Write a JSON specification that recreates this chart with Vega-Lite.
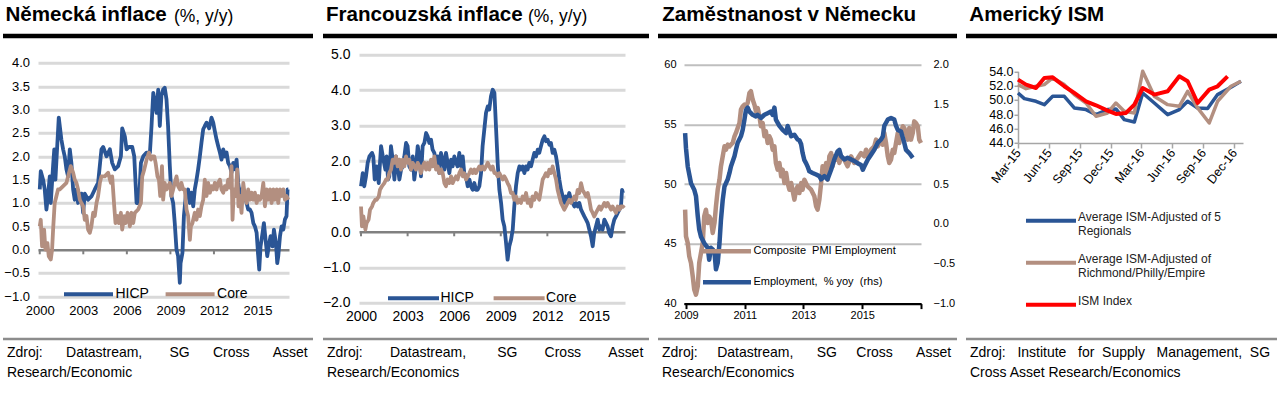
{
"$schema": "https://vega.github.io/schema/vega-lite/v6.json",
"padding": {"left": 3, "top": 4.8, "right": 0, "bottom": 0},
"config": {"font": "Liberation Sans", "view": {"stroke": null}, "axis": {"labelColor": "#000", "domain": false, "ticks": false, "grid": false}, "style": {"guide-label": {"lineHeight": 14}}},
"resolve": {"scale": {"color": "independent"}, "legend": {"color": "independent"}},
"datasets": {
"deH": [{"t":2000.0,"v":1.29},{"t":2000.07,"v":1.68},{"t":2000.23,"v":1.5},{"t":2000.34,"v":1.3},{"t":2000.46,"v":0.86},{"t":2000.57,"v":1.15},{"t":2000.69,"v":1.57},{"t":2000.76,"v":1.0},{"t":2000.92,"v":1.8},{"t":2001.0,"v":2.15},{"t":2001.08,"v":1.5},{"t":2001.2,"v":2.2},{"t":2001.31,"v":2.83},{"t":2001.49,"v":2.36},{"t":2001.61,"v":2.15},{"t":2001.72,"v":2.0},{"t":2001.84,"v":1.72},{"t":2001.95,"v":1.57},{"t":2002.07,"v":2.15},{"t":2002.18,"v":1.86},{"t":2002.3,"v":1.29},{"t":2002.41,"v":1.07},{"t":2002.53,"v":1.29},{"t":2002.64,"v":1.0},{"t":2002.87,"v":1.2},{"t":2002.99,"v":0.79},{"t":2003.1,"v":1.2},{"t":2003.33,"v":1.07},{"t":2003.56,"v":1.14},{"t":2003.79,"v":1.29},{"t":2004.02,"v":1.43},{"t":2004.25,"v":2.15},{"t":2004.37,"v":2.2},{"t":2004.6,"v":2.0},{"t":2004.83,"v":2.15},{"t":2004.99,"v":1.86},{"t":2005.17,"v":1.72},{"t":2005.4,"v":1.79},{"t":2005.59,"v":2.0},{"t":2005.68,"v":2.6},{"t":2005.86,"v":2.43},{"t":2005.98,"v":2.15},{"t":2006.14,"v":2.2},{"t":2006.37,"v":2.2},{"t":2006.51,"v":2.0},{"t":2006.67,"v":1.0},{"t":2006.83,"v":1.0},{"t":2006.97,"v":1.86},{"t":2007.13,"v":2.0},{"t":2007.36,"v":2.08},{"t":2007.59,"v":2.08},{"t":2007.7,"v":2.65},{"t":2007.82,"v":3.36},{"t":2008.05,"v":2.93},{"t":2008.16,"v":3.43},{"t":2008.27,"v":2.65},{"t":2008.38,"v":3.3},{"t":2008.5,"v":3.43},{"t":2008.61,"v":3.47},{"t":2008.73,"v":3.22},{"t":2008.84,"v":2.65},{"t":2008.96,"v":1.79},{"t":2009.07,"v":1.15},{"t":2009.19,"v":1.0},{"t":2009.3,"v":0.57},{"t":2009.42,"v":0.0},{"t":2009.53,"v":-0.14},{"t":2009.65,"v":-0.71},{"t":2009.7,"v":-0.29},{"t":2009.83,"v":-0.07},{"t":2009.93,"v":0.72},{"t":2010.06,"v":1.15},{"t":2010.22,"v":1.29},{"t":2010.34,"v":1.0},{"t":2010.45,"v":1.22},{"t":2010.57,"v":0.93},{"t":2010.68,"v":1.29},{"t":2010.8,"v":1.5},{"t":2010.91,"v":1.72},{"t":2011.03,"v":2.0},{"t":2011.14,"v":2.29},{"t":2011.26,"v":2.58},{"t":2011.37,"v":2.65},{"t":2011.49,"v":2.72},{"t":2011.67,"v":2.6},{"t":2011.83,"v":2.83},{"t":2011.95,"v":2.72},{"t":2012.06,"v":2.54},{"t":2012.18,"v":2.36},{"t":2012.29,"v":2.22},{"t":2012.41,"v":2.08},{"t":2012.52,"v":1.93},{"t":2012.64,"v":2.15},{"t":2012.75,"v":2.0},{"t":2012.87,"v":2.08},{"t":2012.98,"v":1.86},{"t":2013.1,"v":1.79},{"t":2013.21,"v":1.65},{"t":2013.33,"v":1.86},{"t":2013.44,"v":1.72},{"t":2013.56,"v":1.93},{"t":2013.67,"v":1.43},{"t":2013.79,"v":1.15},{"t":2013.9,"v":1.29},{"t":2014.02,"v":1.07},{"t":2014.13,"v":1.22},{"t":2014.25,"v":1.0},{"t":2014.36,"v":0.86},{"t":2014.48,"v":0.86},{"t":2014.59,"v":0.79},{"t":2014.71,"v":0.57},{"t":2014.82,"v":0.5},{"t":2014.94,"v":0.36},{"t":2015.05,"v":-0.14},{"t":2015.12,"v":-0.43},{"t":2015.21,"v":0.07},{"t":2015.35,"v":0.36},{"t":2015.44,"v":0.57},{"t":2015.58,"v":0.14},{"t":2015.67,"v":-0.14},{"t":2015.81,"v":0.14},{"t":2015.9,"v":0.29},{"t":2016.04,"v":0.07},{"t":2016.13,"v":0.43},{"t":2016.27,"v":0.14},{"t":2016.36,"v":-0.29},{"t":2016.43,"v":-0.14},{"t":2016.55,"v":0.29},{"t":2016.66,"v":0.5},{"t":2016.78,"v":0.43},{"t":2016.89,"v":0.65},{"t":2017.0,"v":0.72},{"t":2017.07,"v":1.29},{"t":2017.12,"v":1.29}],
"deC": [{"t":2000.0,"v":0.5},{"t":2000.07,"v":0.64},{"t":2000.16,"v":0.07},{"t":2000.3,"v":0.43},{"t":2000.39,"v":0.0},{"t":2000.53,"v":0.14},{"t":2000.62,"v":-0.14},{"t":2000.76,"v":-0.21},{"t":2000.85,"v":0.0},{"t":2000.92,"v":0.43},{"t":2001.03,"v":1.0},{"t":2001.15,"v":1.15},{"t":2001.26,"v":1.29},{"t":2001.38,"v":1.29},{"t":2001.61,"v":1.36},{"t":2001.84,"v":1.43},{"t":2001.95,"v":1.57},{"t":2002.14,"v":1.79},{"t":2002.3,"v":1.65},{"t":2002.41,"v":1.5},{"t":2002.53,"v":1.43},{"t":2002.64,"v":1.29},{"t":2002.76,"v":1.07},{"t":2002.87,"v":1.0},{"t":2002.99,"v":0.93},{"t":2003.1,"v":0.64},{"t":2003.22,"v":0.72},{"t":2003.33,"v":0.43},{"t":2003.45,"v":0.36},{"t":2003.56,"v":0.5},{"t":2003.68,"v":0.79},{"t":2003.79,"v":0.72},{"t":2003.91,"v":1.0},{"t":2004.02,"v":1.15},{"t":2004.14,"v":1.43},{"t":2004.25,"v":1.57},{"t":2004.48,"v":1.57},{"t":2004.71,"v":1.65},{"t":2004.9,"v":1.43},{"t":2004.99,"v":1.57},{"t":2005.13,"v":0.93},{"t":2005.22,"v":0.57},{"t":2005.36,"v":0.72},{"t":2005.45,"v":0.57},{"t":2005.59,"v":0.79},{"t":2005.68,"v":0.43},{"t":2005.82,"v":0.72},{"t":2005.91,"v":0.57},{"t":2006.05,"v":0.79},{"t":2006.21,"v":0.5},{"t":2006.32,"v":0.79},{"t":2006.44,"v":0.57},{"t":2006.55,"v":0.79},{"t":2006.78,"v":0.86},{"t":2006.97,"v":1.0},{"t":2007.06,"v":1.57},{"t":2007.2,"v":1.72},{"t":2007.36,"v":1.93},{"t":2007.52,"v":2.08},{"t":2007.66,"v":1.93},{"t":2007.75,"v":2.0},{"t":2007.89,"v":2.0},{"t":2007.98,"v":1.86},{"t":2008.11,"v":1.57},{"t":2008.21,"v":1.5},{"t":2008.3,"v":1.15},{"t":2008.42,"v":1.79},{"t":2008.5,"v":1.07},{"t":2008.61,"v":1.43},{"t":2008.73,"v":1.29},{"t":2008.84,"v":1.36},{"t":2008.96,"v":1.43},{"t":2009.07,"v":1.15},{"t":2009.19,"v":1.29},{"t":2009.3,"v":1.43},{"t":2009.42,"v":1.57},{"t":2009.53,"v":1.36},{"t":2009.65,"v":1.29},{"t":2009.76,"v":1.43},{"t":2009.88,"v":1.29},{"t":2009.99,"v":1.29},{"t":2010.11,"v":0.86},{"t":2010.22,"v":0.72},{"t":2010.34,"v":0.21},{"t":2010.41,"v":0.5},{"t":2010.52,"v":0.57},{"t":2010.68,"v":0.79},{"t":2010.8,"v":0.64},{"t":2010.91,"v":0.86},{"t":2011.03,"v":0.72},{"t":2011.14,"v":0.93},{"t":2011.26,"v":1.07},{"t":2011.37,"v":1.5},{"t":2011.49,"v":1.15},{"t":2011.6,"v":1.43},{"t":2011.72,"v":1.22},{"t":2011.83,"v":1.36},{"t":2011.95,"v":1.29},{"t":2012.06,"v":1.43},{"t":2012.18,"v":1.29},{"t":2012.29,"v":1.43},{"t":2012.41,"v":1.5},{"t":2012.52,"v":1.29},{"t":2012.64,"v":1.22},{"t":2012.75,"v":1.36},{"t":2012.87,"v":1.29},{"t":2012.98,"v":1.5},{"t":2013.1,"v":1.33},{"t":2013.21,"v":1.79},{"t":2013.28,"v":0.64},{"t":2013.37,"v":1.29},{"t":2013.51,"v":1.15},{"t":2013.6,"v":1.72},{"t":2013.69,"v":0.93},{"t":2013.79,"v":1.15},{"t":2013.9,"v":0.79},{"t":2014.02,"v":1.43},{"t":2014.13,"v":1.15},{"t":2014.25,"v":1.0},{"t":2014.36,"v":1.29},{"t":2014.48,"v":1.07},{"t":2014.59,"v":1.22},{"t":2014.71,"v":1.07},{"t":2014.82,"v":1.22},{"t":2014.94,"v":1.0},{"t":2015.05,"v":1.15},{"t":2015.17,"v":1.07},{"t":2015.28,"v":1.15},{"t":2015.4,"v":1.43},{"t":2015.51,"v":0.93},{"t":2015.63,"v":1.29},{"t":2015.74,"v":1.07},{"t":2015.86,"v":1.29},{"t":2015.97,"v":1.0},{"t":2016.09,"v":1.29},{"t":2016.2,"v":1.07},{"t":2016.32,"v":1.29},{"t":2016.43,"v":1.0},{"t":2016.55,"v":1.29},{"t":2016.66,"v":1.15},{"t":2016.78,"v":1.29},{"t":2016.89,"v":1.07},{"t":2017.0,"v":1.15},{"t":2017.12,"v":1.07}],
"frH": [{"t":2000.0,"v":1.29},{"t":2000.11,"v":1.66},{"t":2000.21,"v":1.29},{"t":2000.32,"v":1.57},{"t":2000.43,"v":1.95},{"t":2000.54,"v":2.13},{"t":2000.71,"v":2.23},{"t":2000.79,"v":2.13},{"t":2000.88,"v":1.48},{"t":2001.01,"v":1.85},{"t":2001.14,"v":1.38},{"t":2001.29,"v":2.42},{"t":2001.44,"v":2.04},{"t":2001.57,"v":1.76},{"t":2001.65,"v":2.13},{"t":2001.74,"v":1.48},{"t":2001.82,"v":1.57},{"t":2001.93,"v":2.42},{"t":2002.04,"v":2.04},{"t":2002.15,"v":1.48},{"t":2002.25,"v":2.13},{"t":2002.36,"v":1.85},{"t":2002.47,"v":1.48},{"t":2002.58,"v":1.76},{"t":2002.68,"v":1.85},{"t":2002.79,"v":2.13},{"t":2002.9,"v":2.51},{"t":2003.0,"v":2.42},{"t":2003.11,"v":1.85},{"t":2003.22,"v":1.76},{"t":2003.33,"v":2.13},{"t":2003.43,"v":1.48},{"t":2003.54,"v":1.85},{"t":2003.65,"v":2.42},{"t":2003.76,"v":2.13},{"t":2003.86,"v":1.57},{"t":2003.97,"v":2.42},{"t":2004.08,"v":2.51},{"t":2004.19,"v":2.79},{"t":2004.29,"v":2.7},{"t":2004.4,"v":2.51},{"t":2004.51,"v":2.6},{"t":2004.61,"v":2.32},{"t":2004.72,"v":2.23},{"t":2004.83,"v":1.95},{"t":2004.94,"v":2.13},{"t":2005.04,"v":1.66},{"t":2005.15,"v":2.23},{"t":2005.26,"v":2.04},{"t":2005.37,"v":1.76},{"t":2005.47,"v":2.23},{"t":2005.58,"v":1.95},{"t":2005.69,"v":1.66},{"t":2005.8,"v":2.04},{"t":2005.9,"v":1.85},{"t":2006.01,"v":2.13},{"t":2006.12,"v":1.95},{"t":2006.22,"v":1.85},{"t":2006.33,"v":2.23},{"t":2006.44,"v":1.85},{"t":2006.55,"v":2.13},{"t":2006.65,"v":1.66},{"t":2006.76,"v":1.57},{"t":2006.87,"v":1.29},{"t":2006.98,"v":1.48},{"t":2007.08,"v":1.29},{"t":2007.19,"v":1.19},{"t":2007.3,"v":1.38},{"t":2007.4,"v":1.19},{"t":2007.51,"v":1.19},{"t":2007.62,"v":1.29},{"t":2007.73,"v":1.66},{"t":2007.83,"v":2.42},{"t":2007.94,"v":2.89},{"t":2008.05,"v":3.36},{"t":2008.16,"v":3.54},{"t":2008.26,"v":3.45},{"t":2008.37,"v":3.83},{"t":2008.48,"v":4.01},{"t":2008.59,"v":3.92},{"t":2008.69,"v":2.98},{"t":2008.8,"v":1.95},{"t":2008.91,"v":1.19},{"t":2009.02,"v":0.82},{"t":2009.12,"v":0.35},{"t":2009.23,"v":0.16},{"t":2009.34,"v":-0.31},{"t":2009.44,"v":-0.78},{"t":2009.55,"v":-0.4},{"t":2009.66,"v":-0.22},{"t":2009.77,"v":0.07},{"t":2009.87,"v":0.72},{"t":2009.98,"v":1.29},{"t":2010.09,"v":1.66},{"t":2010.2,"v":1.85},{"t":2010.3,"v":1.76},{"t":2010.41,"v":1.85},{"t":2010.52,"v":1.66},{"t":2010.63,"v":1.85},{"t":2010.73,"v":1.76},{"t":2010.84,"v":1.95},{"t":2010.95,"v":1.85},{"t":2011.05,"v":2.04},{"t":2011.16,"v":2.23},{"t":2011.27,"v":2.13},{"t":2011.38,"v":2.32},{"t":2011.48,"v":2.23},{"t":2011.59,"v":2.42},{"t":2011.7,"v":2.6},{"t":2011.81,"v":2.7},{"t":2011.91,"v":2.56},{"t":2012.02,"v":2.6},{"t":2012.13,"v":2.46},{"t":2012.23,"v":2.51},{"t":2012.34,"v":2.23},{"t":2012.45,"v":2.32},{"t":2012.56,"v":2.13},{"t":2012.66,"v":1.85},{"t":2012.77,"v":1.48},{"t":2012.88,"v":1.19},{"t":2012.99,"v":1.0},{"t":2013.09,"v":0.82},{"t":2013.2,"v":1.0},{"t":2013.31,"v":0.91},{"t":2013.41,"v":1.1},{"t":2013.52,"v":0.91},{"t":2013.63,"v":0.82},{"t":2013.74,"v":0.72},{"t":2013.84,"v":0.82},{"t":2013.95,"v":0.72},{"t":2014.06,"v":0.82},{"t":2014.17,"v":0.63},{"t":2014.27,"v":0.54},{"t":2014.38,"v":0.44},{"t":2014.49,"v":0.35},{"t":2014.6,"v":0.25},{"t":2014.7,"v":0.07},{"t":2014.81,"v":-0.12},{"t":2014.92,"v":-0.4},{"t":2015.02,"v":-0.03},{"t":2015.13,"v":0.16},{"t":2015.24,"v":0.35},{"t":2015.35,"v":0.07},{"t":2015.45,"v":0.16},{"t":2015.56,"v":0.07},{"t":2015.67,"v":0.35},{"t":2015.78,"v":0.25},{"t":2015.88,"v":0.16},{"t":2015.99,"v":-0.03},{"t":2016.1,"v":-0.12},{"t":2016.2,"v":0.16},{"t":2016.31,"v":0.35},{"t":2016.42,"v":0.44},{"t":2016.53,"v":0.54},{"t":2016.64,"v":0.63},{"t":2016.74,"v":0.72},{"t":2016.81,"v":1.19},{"t":2016.87,"v":1.1}],
"frC": [{"t":2000.0,"v":0.72},{"t":2000.06,"v":0.16},{"t":2000.15,"v":0.44},{"t":2000.28,"v":0.07},{"t":2000.36,"v":0.25},{"t":2000.49,"v":0.35},{"t":2000.58,"v":0.63},{"t":2000.71,"v":0.72},{"t":2000.79,"v":0.82},{"t":2000.92,"v":0.91},{"t":2001.01,"v":0.91},{"t":2001.14,"v":1.0},{"t":2001.22,"v":1.19},{"t":2001.35,"v":1.29},{"t":2001.5,"v":1.38},{"t":2001.61,"v":1.48},{"t":2001.72,"v":1.48},{"t":2001.82,"v":1.66},{"t":2001.93,"v":1.76},{"t":2002.04,"v":2.04},{"t":2002.15,"v":1.95},{"t":2002.25,"v":2.13},{"t":2002.36,"v":1.85},{"t":2002.47,"v":2.04},{"t":2002.58,"v":1.76},{"t":2002.68,"v":2.04},{"t":2002.79,"v":1.85},{"t":2002.9,"v":2.13},{"t":2003.0,"v":1.95},{"t":2003.11,"v":2.04},{"t":2003.22,"v":1.76},{"t":2003.33,"v":1.95},{"t":2003.43,"v":1.85},{"t":2003.54,"v":1.76},{"t":2003.65,"v":1.95},{"t":2003.76,"v":1.85},{"t":2003.86,"v":1.66},{"t":2003.97,"v":1.85},{"t":2004.08,"v":1.95},{"t":2004.19,"v":1.76},{"t":2004.29,"v":1.95},{"t":2004.4,"v":1.76},{"t":2004.51,"v":2.04},{"t":2004.61,"v":1.85},{"t":2004.72,"v":2.13},{"t":2004.83,"v":1.76},{"t":2004.94,"v":1.85},{"t":2005.04,"v":1.66},{"t":2005.15,"v":1.76},{"t":2005.26,"v":1.66},{"t":2005.37,"v":1.38},{"t":2005.47,"v":1.29},{"t":2005.58,"v":1.48},{"t":2005.69,"v":1.38},{"t":2005.8,"v":1.57},{"t":2005.9,"v":1.38},{"t":2006.01,"v":1.48},{"t":2006.12,"v":1.57},{"t":2006.22,"v":1.48},{"t":2006.33,"v":1.66},{"t":2006.44,"v":1.76},{"t":2006.55,"v":1.57},{"t":2006.65,"v":1.66},{"t":2006.76,"v":1.48},{"t":2006.87,"v":1.57},{"t":2006.98,"v":1.66},{"t":2007.08,"v":1.76},{"t":2007.19,"v":1.66},{"t":2007.3,"v":1.76},{"t":2007.4,"v":1.66},{"t":2007.51,"v":1.76},{"t":2007.62,"v":1.85},{"t":2007.73,"v":1.76},{"t":2007.83,"v":1.85},{"t":2007.94,"v":1.76},{"t":2008.05,"v":1.85},{"t":2008.16,"v":1.95},{"t":2008.26,"v":1.85},{"t":2008.37,"v":1.76},{"t":2008.48,"v":1.85},{"t":2008.59,"v":1.66},{"t":2008.69,"v":1.66},{"t":2008.8,"v":1.57},{"t":2008.91,"v":1.66},{"t":2009.02,"v":1.57},{"t":2009.12,"v":1.48},{"t":2009.23,"v":1.57},{"t":2009.34,"v":1.48},{"t":2009.44,"v":1.38},{"t":2009.55,"v":1.29},{"t":2009.66,"v":1.1},{"t":2009.77,"v":1.1},{"t":2009.87,"v":0.91},{"t":2009.98,"v":1.0},{"t":2010.09,"v":0.82},{"t":2010.2,"v":0.91},{"t":2010.3,"v":0.82},{"t":2010.41,"v":1.0},{"t":2010.52,"v":0.91},{"t":2010.63,"v":1.1},{"t":2010.73,"v":0.82},{"t":2010.84,"v":0.91},{"t":2010.95,"v":0.72},{"t":2011.05,"v":1.0},{"t":2011.16,"v":0.91},{"t":2011.27,"v":1.1},{"t":2011.38,"v":1.0},{"t":2011.48,"v":0.91},{"t":2011.59,"v":1.19},{"t":2011.7,"v":1.48},{"t":2011.81,"v":1.57},{"t":2011.91,"v":1.66},{"t":2012.02,"v":1.57},{"t":2012.13,"v":1.76},{"t":2012.23,"v":1.66},{"t":2012.34,"v":1.85},{"t":2012.45,"v":1.66},{"t":2012.56,"v":1.48},{"t":2012.66,"v":1.19},{"t":2012.77,"v":1.0},{"t":2012.88,"v":0.82},{"t":2012.99,"v":0.72},{"t":2013.09,"v":0.63},{"t":2013.2,"v":0.72},{"t":2013.31,"v":0.82},{"t":2013.41,"v":0.91},{"t":2013.52,"v":0.82},{"t":2013.63,"v":0.91},{"t":2013.74,"v":1.0},{"t":2013.84,"v":0.91},{"t":2013.95,"v":1.19},{"t":2014.06,"v":1.1},{"t":2014.17,"v":1.38},{"t":2014.27,"v":1.19},{"t":2014.38,"v":1.1},{"t":2014.49,"v":1.0},{"t":2014.6,"v":1.1},{"t":2014.7,"v":0.91},{"t":2014.81,"v":0.63},{"t":2014.92,"v":0.54},{"t":2015.02,"v":0.44},{"t":2015.13,"v":0.54},{"t":2015.24,"v":0.63},{"t":2015.35,"v":0.72},{"t":2015.45,"v":0.63},{"t":2015.56,"v":0.72},{"t":2015.67,"v":0.82},{"t":2015.78,"v":0.72},{"t":2015.88,"v":0.82},{"t":2015.99,"v":0.72},{"t":2016.1,"v":0.63},{"t":2016.2,"v":0.72},{"t":2016.31,"v":0.63},{"t":2016.42,"v":0.54},{"t":2016.53,"v":0.72},{"t":2016.64,"v":0.63},{"t":2016.74,"v":0.72},{"t":2016.87,"v":0.72},{"t":2016.95,"v":0.68}],
"pmi": [{"t":2008.97,"v":47.86},{"t":2009.0,"v":45.63},{"t":2009.06,"v":45.07},{"t":2009.11,"v":43.96},{"t":2009.17,"v":43.4},{"t":2009.23,"v":42.28},{"t":2009.28,"v":41.17},{"t":2009.34,"v":40.75},{"t":2009.4,"v":41.45},{"t":2009.45,"v":43.4},{"t":2009.51,"v":44.24},{"t":2009.57,"v":45.07},{"t":2009.62,"v":47.3},{"t":2009.68,"v":47.86},{"t":2009.74,"v":46.75},{"t":2009.79,"v":47.3},{"t":2009.85,"v":47.03},{"t":2009.91,"v":45.91},{"t":2009.97,"v":46.75},{"t":2010.02,"v":48.14},{"t":2010.08,"v":49.53},{"t":2010.14,"v":50.37},{"t":2010.19,"v":51.49},{"t":2010.25,"v":52.32},{"t":2010.31,"v":53.16},{"t":2010.36,"v":52.88},{"t":2010.42,"v":53.3},{"t":2010.48,"v":53.16},{"t":2010.53,"v":53.3},{"t":2010.59,"v":53.44},{"t":2010.65,"v":54.0},{"t":2010.7,"v":54.28},{"t":2010.76,"v":54.7},{"t":2010.82,"v":55.11},{"t":2010.87,"v":56.23},{"t":2010.93,"v":56.51},{"t":2010.99,"v":56.65},{"t":2011.04,"v":56.51},{"t":2011.1,"v":56.79},{"t":2011.16,"v":57.63},{"t":2011.21,"v":57.77},{"t":2011.27,"v":57.07},{"t":2011.33,"v":56.65},{"t":2011.38,"v":56.09},{"t":2011.44,"v":56.37},{"t":2011.5,"v":55.67},{"t":2011.55,"v":54.84},{"t":2011.61,"v":55.11},{"t":2011.67,"v":54.0},{"t":2011.72,"v":54.42},{"t":2011.78,"v":53.44},{"t":2011.84,"v":54.0},{"t":2011.89,"v":53.72},{"t":2011.95,"v":52.88},{"t":2012.01,"v":53.16},{"t":2012.06,"v":51.77},{"t":2012.12,"v":51.21},{"t":2012.18,"v":51.77},{"t":2012.24,"v":50.65},{"t":2012.29,"v":51.21},{"t":2012.35,"v":50.09},{"t":2012.41,"v":50.93},{"t":2012.46,"v":50.09},{"t":2012.52,"v":49.53},{"t":2012.58,"v":50.09},{"t":2012.69,"v":48.7},{"t":2012.75,"v":49.53},{"t":2012.8,"v":49.81},{"t":2012.86,"v":49.25},{"t":2012.92,"v":50.09},{"t":2012.97,"v":49.53},{"t":2013.03,"v":50.37},{"t":2013.14,"v":49.81},{"t":2013.26,"v":49.53},{"t":2013.37,"v":48.98},{"t":2013.43,"v":48.14},{"t":2013.48,"v":47.86},{"t":2013.54,"v":48.7},{"t":2013.6,"v":50.09},{"t":2013.65,"v":51.49},{"t":2013.71,"v":50.65},{"t":2013.77,"v":51.77},{"t":2013.82,"v":50.37},{"t":2013.88,"v":52.32},{"t":2013.94,"v":52.6},{"t":2013.99,"v":51.49},{"t":2014.05,"v":52.32},{"t":2014.11,"v":52.04},{"t":2014.16,"v":52.6},{"t":2014.22,"v":51.77},{"t":2014.28,"v":52.32},{"t":2014.39,"v":52.04},{"t":2014.5,"v":51.49},{"t":2014.62,"v":52.32},{"t":2014.68,"v":52.04},{"t":2014.73,"v":51.77},{"t":2014.85,"v":52.18},{"t":2014.96,"v":52.6},{"t":2015.07,"v":52.32},{"t":2015.13,"v":52.88},{"t":2015.19,"v":52.32},{"t":2015.3,"v":52.88},{"t":2015.41,"v":53.16},{"t":2015.47,"v":53.72},{"t":2015.53,"v":53.16},{"t":2015.64,"v":53.72},{"t":2015.7,"v":53.3},{"t":2015.75,"v":54.28},{"t":2015.81,"v":53.44},{"t":2015.87,"v":52.32},{"t":2015.92,"v":51.77},{"t":2015.98,"v":52.04},{"t":2016.04,"v":52.88},{"t":2016.09,"v":52.6},{"t":2016.15,"v":53.44},{"t":2016.21,"v":54.28},{"t":2016.26,"v":53.44},{"t":2016.32,"v":54.28},{"t":2016.38,"v":54.84},{"t":2016.43,"v":54.7},{"t":2016.55,"v":53.72},{"t":2016.6,"v":54.7},{"t":2016.66,"v":53.72},{"t":2016.72,"v":54.28},{"t":2016.77,"v":55.25},{"t":2016.83,"v":55.11},{"t":2016.89,"v":54.84},{"t":2016.94,"v":53.72},{"t":2017.0,"v":53.44}],
"emp": [{"t":2008.97,"v":1.14},{"t":2009.0,"v":0.95},{"t":2009.06,"v":0.72},{"t":2009.17,"v":0.51},{"t":2009.28,"v":0.43},{"t":2009.34,"v":0.35},{"t":2009.4,"v":0.1},{"t":2009.45,"v":-0.07},{"t":2009.51,"v":-0.16},{"t":2009.62,"v":-0.24},{"t":2009.74,"v":-0.3},{"t":2009.79,"v":-0.45},{"t":2009.85,"v":-0.3},{"t":2009.91,"v":-0.32},{"t":2009.97,"v":-0.36},{"t":2010.02,"v":-0.57},{"t":2010.08,"v":-0.49},{"t":2010.14,"v":-0.24},{"t":2010.19,"v":0.05},{"t":2010.25,"v":0.3},{"t":2010.31,"v":0.47},{"t":2010.36,"v":0.51},{"t":2010.42,"v":0.56},{"t":2010.48,"v":0.64},{"t":2010.53,"v":0.72},{"t":2010.65,"v":0.85},{"t":2010.7,"v":0.93},{"t":2010.76,"v":1.02},{"t":2010.87,"v":1.1},{"t":2010.93,"v":1.18},{"t":2010.99,"v":1.31},{"t":2011.04,"v":1.43},{"t":2011.1,"v":1.46},{"t":2011.16,"v":1.41},{"t":2011.27,"v":1.37},{"t":2011.38,"v":1.35},{"t":2011.44,"v":1.37},{"t":2011.55,"v":1.33},{"t":2011.67,"v":1.37},{"t":2011.78,"v":1.39},{"t":2011.89,"v":1.41},{"t":2011.95,"v":1.37},{"t":2012.01,"v":1.46},{"t":2012.06,"v":1.31},{"t":2012.18,"v":1.23},{"t":2012.29,"v":1.18},{"t":2012.41,"v":1.14},{"t":2012.46,"v":1.23},{"t":2012.58,"v":1.1},{"t":2012.69,"v":1.12},{"t":2012.8,"v":1.06},{"t":2012.86,"v":1.05},{"t":2012.92,"v":1.0},{"t":2012.97,"v":0.89},{"t":2013.03,"v":0.8},{"t":2013.09,"v":0.76},{"t":2013.14,"v":0.72},{"t":2013.2,"v":0.66},{"t":2013.31,"v":0.64},{"t":2013.43,"v":0.62},{"t":2013.54,"v":0.6},{"t":2013.6,"v":0.56},{"t":2013.71,"v":0.6},{"t":2013.82,"v":0.56},{"t":2013.94,"v":0.68},{"t":2014.05,"v":0.81},{"t":2014.16,"v":0.91},{"t":2014.22,"v":0.93},{"t":2014.28,"v":0.85},{"t":2014.39,"v":0.81},{"t":2014.5,"v":0.83},{"t":2014.62,"v":0.81},{"t":2014.73,"v":0.79},{"t":2014.85,"v":0.76},{"t":2014.96,"v":0.74},{"t":2015.02,"v":0.68},{"t":2015.07,"v":0.72},{"t":2015.19,"v":0.81},{"t":2015.3,"v":0.87},{"t":2015.41,"v":0.93},{"t":2015.53,"v":1.02},{"t":2015.64,"v":1.06},{"t":2015.7,"v":1.1},{"t":2015.75,"v":1.23},{"t":2015.81,"v":1.27},{"t":2015.87,"v":1.31},{"t":2015.98,"v":1.33},{"t":2016.09,"v":1.31},{"t":2016.15,"v":1.23},{"t":2016.21,"v":1.18},{"t":2016.32,"v":1.16},{"t":2016.43,"v":1.02},{"t":2016.49,"v":0.93},{"t":2016.6,"v":0.89},{"t":2016.72,"v":0.83}],
"ism5": [{"t":0,"v":50.98},{"t":0.62,"v":50.19},{"t":1.75,"v":49.82},{"t":2.56,"v":49.35},{"t":3.37,"v":50.51},{"t":4.5,"v":50.51},{"t":5.47,"v":48.89},{"t":6.61,"v":48.66},{"t":7.58,"v":47.96},{"t":8.71,"v":48.66},{"t":9.52,"v":48.75},{"t":10.33,"v":47.26},{"t":11.31,"v":46.93},{"t":12.12,"v":50.98},{"t":13.25,"v":49.58},{"t":14.55,"v":47.96},{"t":15.68,"v":48.66},{"t":16.49,"v":49.82},{"t":17.46,"v":48.89},{"t":18.43,"v":48.8},{"t":19.4,"v":50.75},{"t":20.7,"v":51.77},{"t":21.67,"v":52.61}],
"ismR": [{"t":0,"v":52.14},{"t":0.78,"v":51.58},{"t":1.75,"v":51.91},{"t":2.56,"v":52.14},{"t":3.37,"v":53.07},{"t":4.5,"v":52.14},{"t":5.47,"v":50.75},{"t":6.61,"v":49.58},{"t":7.58,"v":47.73},{"t":8.71,"v":48.19},{"t":9.52,"v":49.58},{"t":10.33,"v":48.42},{"t":11.31,"v":48.19},{"t":12.12,"v":54.0},{"t":13.25,"v":50.51},{"t":14.55,"v":49.35},{"t":15.68,"v":49.12},{"t":16.49,"v":51.21},{"t":17.46,"v":48.89},{"t":18.59,"v":46.79},{"t":19.4,"v":49.82},{"t":20.7,"v":51.91},{"t":21.67,"v":52.61}],
"ism": [{"t":0,"v":52.84},{"t":0.78,"v":52.14},{"t":1.75,"v":51.67},{"t":2.56,"v":53.07},{"t":3.37,"v":53.16},{"t":4.5,"v":51.91},{"t":5.47,"v":50.98},{"t":6.61,"v":49.82},{"t":7.58,"v":49.26},{"t":8.71,"v":48.52},{"t":9.52,"v":48.05},{"t":10.5,"v":48.19},{"t":11.31,"v":49.35},{"t":12.12,"v":51.67},{"t":13.25,"v":50.75},{"t":14.55,"v":51.21},{"t":15.68,"v":53.3},{"t":16.49,"v":52.61},{"t":17.46,"v":49.58},{"t":18.59,"v":51.44},{"t":19.4,"v":51.91},{"t":20.37,"v":53.3}]
},
"spacing": 9,
"hconcat": [
{
"spacing": 0,
"vconcat": [
{"hconcat": [
{"data": {"values": [{}]}, "width": 171, "height": 4.5, "mark": {"type": "rect", "color": "#000"}, "encoding": {}, "title": {"text": "Německá inflace", "anchor": "start", "orient": "top", "fontSize": 20.6, "fontWeight": "bold", "color": "#000", "offset": -8.1, "baseline": "alphabetic", "dx": 2.5}},
{"data": {"values": [{}]}, "width": 139, "height": 4.5, "mark": {"type": "rect", "color": "#000"}, "encoding": {}, "title": {"text": "(%, y/y)", "anchor": "start", "orient": "top", "fontSize": 17.5, "fontWeight": "normal", "color": "#000", "offset": -5.4, "baseline": "alphabetic"}}
], "spacing": 0, "bounds": "flush"},
{
"width": 310, "height": 298.5,
"encoding": {
"x": {"field": "t", "type": "quantitative", "scale": {"domain": [1999.88, 2017.17], "range": [35, 286], "nice": false, "zero": false}, "axis": {"title": null, "offset": -41, "values": [2000,2003,2006,2009,2012,2015], "format": "d", "labelFontSize": 13, "labelPadding": 8, "tickSize": 0, "ticks": false, "domain": false, "grid": false, "labelFlush": false, "labelOverlap": false}},
"y": {"field": "v", "type": "quantitative", "scale": {"domain": [-1, 4], "range": [257.5, 24.2], "nice": false, "zero": false}, "axis": {"title": null, "offset": -35, "values": [-1,-0.5,0,0.5,1,1.5,2,2.5,3,3.5,4], "format": ".1f", "labelFontSize": 13, "labelPadding": 8.5, "tickSize": 0, "ticks": false, "domain": false, "grid": true, "gridColor": {"condition": {"test": "datum.value === 0", "value": "#808080"}, "value": "#d9d9d9"}, "gridWidth": {"condition": {"test": "datum.value === 0", "value": 2.5}, "value": 3}, "labelFlush": false, "labelOverlap": false}}
},
"layer": [
{"data": {"values": [{"t":2000,"v":0},{"t":2003,"v":0},{"t":2006,"v":0},{"t":2009,"v":0},{"t":2012,"v":0},{"t":2015,"v":0}]}, "mark": {"type": "rule", "color": "#808080", "strokeWidth": 2}, "encoding": {"y2": {"datum": -0.1}}},
{"data": {"name": "deH"}, "mark": {"type": "line", "strokeWidth": 3.8, "strokeJoin": "round"}, "encoding": {"color": {"datum": "HICP", "scale": {"domain": ["HICP", "Core"], "range": ["#2a5595", "#b38f80"]}, "legend": {"title": null, "orient": "none", "legendX": 61, "legendY": 253.5, "direction": "horizontal", "symbolType": "M-4.9,0H4.9", "symbolSize": 100, "symbolStrokeWidth": 4, "symbolOffset": 17.5, "labelOffset": 20, "labelFontSize": 14, "labelColor": "#000", "columnPadding": 8.6, "padding": 0}}}},
{"data": {"name": "deC"}, "mark": {"type": "line", "strokeWidth": 3.8, "strokeJoin": "round"}, "encoding": {"color": {"datum": "Core", "scale": {"domain": ["HICP", "Core"], "range": ["#2a5595", "#b38f80"]}, "legend": {"title": null, "orient": "none", "legendX": 61, "legendY": 253.5, "direction": "horizontal", "symbolType": "M-4.9,0H4.9", "symbolSize": 100, "symbolStrokeWidth": 4, "symbolOffset": 17.5, "labelOffset": 20, "labelFontSize": 14, "labelColor": "#000", "columnPadding": 8.6, "padding": 0}}}}
]
},
{"data": {"values": [{}]}, "width": 310, "height": 2.5, "mark": {"type": "rect", "color": "#8c8c8c"}, "encoding": {}, "title": {"text": ["Zdroj:\u00a0\u00a0\u00a0\u00a0\u00a0\u00a0Datastream,\u00a0\u00a0\u00a0\u00a0\u00a0\u00a0\u00a0SG\u00a0\u00a0\u00a0\u00a0\u00a0\u00a0Cross\u00a0\u00a0\u00a0\u00a0\u00a0\u00a0Asset", "Research/Economic"], "orient": "bottom", "anchor": "start", "fontSize": 14, "fontWeight": "normal", "color": "#000", "offset": 16.5, "baseline": "alphabetic", "lineHeight": 20, "dx": 4}}
]
},
{
"spacing": 0,
"vconcat": [
{"hconcat": [
{"data": {"values": [{}]}, "width": 205, "height": 4.5, "mark": {"type": "rect", "color": "#000"}, "encoding": {}, "title": {"text": "Francouzská inflace", "anchor": "start", "orient": "top", "fontSize": 20.6, "fontWeight": "bold", "color": "#000", "offset": -8.1, "baseline": "alphabetic", "dx": 3}},
{"data": {"values": [{}]}, "width": 121, "height": 4.5, "mark": {"type": "rect", "color": "#000"}, "encoding": {}, "title": {"text": "(%, y/y)", "anchor": "start", "orient": "top", "fontSize": 17.5, "fontWeight": "normal", "color": "#000", "offset": -5.4, "baseline": "alphabetic"}}
], "spacing": 0, "bounds": "flush"},
{
"width": 326, "height": 298.5,
"encoding": {
"x": {"field": "t", "type": "quantitative", "scale": {"domain": [1999.87, 2017.0], "range": [36, 302], "nice": false, "zero": false}, "axis": {"title": null, "offset": -34.3, "values": [2000,2003,2006,2009,2012,2015], "format": "d", "labelFontSize": 14, "labelPadding": 7, "tickSize": 0, "ticks": false, "domain": false, "grid": false, "labelFlush": false, "labelOverlap": false}},
"y": {"field": "v", "type": "quantitative", "scale": {"domain": [-2, 5], "range": [264.2, 15.8], "nice": false, "zero": false}, "axis": {"title": null, "offset": -36, "values": [-2,-1,0,1,2,3,4,5], "format": ".1f", "labelFontSize": 14, "labelPadding": 9, "tickSize": 0, "ticks": false, "domain": false, "grid": true, "gridColor": {"condition": {"test": "datum.value === 0", "value": "#808080"}, "value": "#d9d9d9"}, "gridWidth": {"condition": {"test": "datum.value === 0", "value": 2.5}, "value": 3}, "labelFlush": false, "labelOverlap": false}}
},
"layer": [
{"data": {"values": [{"t":2000,"v":0},{"t":2003,"v":0},{"t":2006,"v":0},{"t":2009,"v":0},{"t":2012,"v":0},{"t":2015,"v":0}]}, "mark": {"type": "rule", "color": "#808080", "strokeWidth": 2}, "encoding": {"y2": {"datum": -0.12}}},
{"data": {"name": "frH"}, "mark": {"type": "line", "strokeWidth": 3.8, "strokeJoin": "round"}, "encoding": {"color": {"datum": "HICP", "scale": {"domain": ["HICP", "Core"], "range": ["#2a5595", "#b38f80"]}, "legend": {"title": null, "orient": "none", "legendX": 65, "legendY": 257.5, "direction": "horizontal", "symbolType": "M-5.1,0H5.1", "symbolSize": 100, "symbolStrokeWidth": 4, "symbolOffset": 18.5, "labelOffset": 20, "labelFontSize": 14, "labelColor": "#000", "columnPadding": 11.6, "padding": 0}}}},
{"data": {"name": "frC"}, "mark": {"type": "line", "strokeWidth": 3.8, "strokeJoin": "round"}, "encoding": {"color": {"datum": "Core", "scale": {"domain": ["HICP", "Core"], "range": ["#2a5595", "#b38f80"]}, "legend": {"title": null, "orient": "none", "legendX": 65, "legendY": 257.5, "direction": "horizontal", "symbolType": "M-5.1,0H5.1", "symbolSize": 100, "symbolStrokeWidth": 4, "symbolOffset": 18.5, "labelOffset": 20, "labelFontSize": 14, "labelColor": "#000", "columnPadding": 11.6, "padding": 0}}}}
]
},
{"data": {"values": [{}]}, "width": 326, "height": 2.5, "mark": {"type": "rect", "color": "#8c8c8c"}, "encoding": {}, "title": {"text": ["Zdroj:\u00a0\u00a0\u00a0\u00a0\u00a0\u00a0\u00a0Datastream,\u00a0\u00a0\u00a0\u00a0\u00a0\u00a0\u00a0\u00a0SG\u00a0\u00a0\u00a0\u00a0\u00a0\u00a0\u00a0Cross\u00a0\u00a0\u00a0\u00a0\u00a0\u00a0\u00a0Asset", "Research/Economics"], "orient": "bottom", "anchor": "start", "fontSize": 14, "fontWeight": "normal", "color": "#000", "offset": 16.5, "baseline": "alphabetic", "lineHeight": 20, "dx": 4}}
]
},
{
"spacing": 0,
"vconcat": [
{"data": {"values": [{}]}, "width": 299, "height": 4.5, "mark": {"type": "rect", "color": "#000"}, "encoding": {}, "title": {"text": "Zaměstnanost v Německu", "anchor": "start", "orient": "top", "fontSize": 20.6, "fontWeight": "bold", "color": "#000", "offset": -8.1, "baseline": "alphabetic", "dx": 4.3}},
{
"width": 299, "height": 298.5,
"encoding": {
"x": {"field": "t", "type": "quantitative", "scale": {"domain": [2008.932, 2017.0], "range": [26, 263], "nice": false, "zero": false}, "axis": {"title": null, "offset": -33.7, "values": [2009,2011,2013,2015,2017], "format": "d", "labelExpr": "datum.value == 2017 ? '' : datum.label", "labelFontSize": 11, "labelPadding": 1, "domain": true, "domainColor": "#000", "domainWidth": 2, "domainOpacity": 1, "ticks": true, "tickColor": "#000", "tickSize": 5, "tickWidth": 2, "grid": false, "labelFlush": false, "labelOverlap": false}}
},
"layer": [
{"data": {"name": "pmi"}, "mark": {"type": "line", "strokeWidth": 4.5, "strokeJoin": "round"}, "encoding": {"y": {"field": "v", "type": "quantitative", "scale": {"domain": [40, 60], "range": [264.8, 25.8], "nice": false, "zero": false}, "axis": {"title": null, "orient": "left", "offset": -26, "values": [40,45,50,55,60], "format": "d", "labelFontSize": 11, "labelPadding": 8, "tickSize": 0, "ticks": false, "domain": false, "grid": true, "gridColor": {"condition": {"test": "datum.value === 40", "value": "#000"}, "value": "#bfbfbf"}, "gridWidth": 2, "labelFlush": false, "labelOverlap": false}}, "color": {"datum": "Composite\u00a0 PMI Employment", "scale": {"domain": ["Composite\u00a0 PMI Employment", "Employment,\u00a0 % yoy\u00a0 (rhs)"], "range": ["#b38f80", "#2a5595"]}, "legend": {"title": null, "orient": "none", "legendX": 45, "legendY": 210, "direction": "vertical", "symbolType": "M-4.8,0H4.8", "symbolSize": 100, "symbolStrokeWidth": 4.5, "symbolOffset": 16.5, "labelOffset": 19, "labelFontSize": 11, "labelColor": "#000", "rowPadding": 12, "padding": 0}}}},
{"data": {"name": "emp"}, "mark": {"type": "line", "strokeWidth": 4.5, "strokeJoin": "round"}, "encoding": {"y": {"field": "v", "type": "quantitative", "scale": {"domain": [-1, 2], "range": [264.8, 25.8], "nice": false, "zero": false}, "axis": {"title": null, "orient": "right", "offset": -36, "values": [-1,-0.5,0,0.5,1,1.5,2], "format": ".1f", "labelFontSize": 11, "labelPadding": 12, "tickSize": 0, "ticks": false, "domain": false, "grid": false, "labelFlush": false, "labelOverlap": false}}, "color": {"datum": "Employment,\u00a0 % yoy\u00a0 (rhs)", "scale": {"domain": ["Composite\u00a0 PMI Employment", "Employment,\u00a0 % yoy\u00a0 (rhs)"], "range": ["#b38f80", "#2a5595"]}, "legend": {"title": null, "orient": "none", "legendX": 45, "legendY": 210, "direction": "vertical", "symbolType": "M-4.8,0H4.8", "symbolSize": 100, "symbolStrokeWidth": 4.5, "symbolOffset": 16.5, "labelOffset": 19, "labelFontSize": 11, "labelColor": "#000", "rowPadding": 12, "padding": 0}}}}
],
"resolve": {"scale": {"y": "independent"}}
},
{"data": {"values": [{}]}, "width": 299, "height": 2.5, "mark": {"type": "rect", "color": "#8c8c8c"}, "encoding": {}, "title": {"text": ["Zdroj:\u00a0\u00a0\u00a0\u00a0\u00a0Datastream,\u00a0\u00a0\u00a0\u00a0\u00a0\u00a0SG\u00a0\u00a0\u00a0\u00a0\u00a0Cross\u00a0\u00a0\u00a0\u00a0\u00a0\u00a0Asset", "Research/Economics"], "orient": "bottom", "anchor": "start", "fontSize": 14, "fontWeight": "normal", "color": "#000", "offset": 16.5, "baseline": "alphabetic", "lineHeight": 20, "dx": 4}}
]
},
{
"spacing": 0,
"vconcat": [
{"data": {"values": [{}]}, "width": 311, "height": 4.5, "mark": {"type": "rect", "color": "#000"}, "encoding": {}, "title": {"text": "Americký ISM", "anchor": "start", "orient": "top", "fontSize": 20.6, "fontWeight": "bold", "color": "#000", "offset": -8.1, "baseline": "alphabetic", "dx": 3.3}},
{
"width": 311, "height": 298.5,
"encoding": {
"x": {"field": "t", "type": "quantitative", "scale": {"domain": [0, 21.87], "range": [52, 277], "nice": false, "zero": false}, "axis": {"title": null, "offset": -194.3, "values": [0,3,6,9,12,15,18,21], "labelExpr": "['Mar-15','Jun-15','Sep-15','Dec-15','Mar-16','Jun-16','Sep-16','Dec-16'][round(datum.value/3)]", "labelAngle": -52, "labelAlign": "right", "labelBaseline": "middle", "labelFontSize": 12.5, "labelPadding": 2, "domain": true, "domainColor": "#a6a6a6", "domainWidth": 1.5, "ticks": true, "tickColor": "#a6a6a6", "tickSize": 5, "tickWidth": 1.5, "grid": false, "labelFlush": false, "labelOverlap": false}},
"y": {"field": "v", "type": "quantitative", "scale": {"domain": [44, 54], "range": [104.2, 32.5], "nice": false, "zero": false}, "axis": {"title": null, "offset": -52, "values": [44,46,48,50,52,54], "format": ".1f", "labelFontSize": 12.5, "labelPadding": 1, "domain": true, "domainColor": "#a6a6a6", "domainWidth": 1.5, "ticks": true, "tickColor": "#a6a6a6", "tickSize": 4, "tickWidth": 1.5, "grid": false, "labelFlush": false, "labelOverlap": false}}
},
"layer": [
{"data": {"name": "ism5"}, "mark": {"type": "line", "strokeWidth": 3.5, "strokeJoin": "round"}, "encoding": {"color": {"datum": "Average ISM-Adjusted of 5|Regionals", "scale": {"domain": ["Average ISM-Adjusted of 5|Regionals", "Average ISM-Adjusted of|Richmond/Philly/Empire", "ISM Index"], "range": ["#2a5595", "#b38f80", "#ff0000"]}, "legend": {"title": null, "orient": "none", "legendX": 60, "legendY": 179.9, "direction": "vertical", "symbolType": "M-5,0H5", "symbolSize": 100, "symbolStrokeWidth": 4, "symbolOffset": 18, "labelOffset": 20, "labelFontSize": 12, "labelColor": "#222", "labelBaseline": "alphabetic", "labelExpr": "split(datum.label, '|')", "rowPadding": 16, "padding": 0}}}},
{"data": {"name": "ismR"}, "mark": {"type": "line", "strokeWidth": 3.5, "strokeJoin": "round"}, "encoding": {"color": {"datum": "Average ISM-Adjusted of|Richmond/Philly/Empire", "scale": {"domain": ["Average ISM-Adjusted of 5|Regionals", "Average ISM-Adjusted of|Richmond/Philly/Empire", "ISM Index"], "range": ["#2a5595", "#b38f80", "#ff0000"]}, "legend": {"title": null, "orient": "none", "legendX": 60, "legendY": 179.9, "direction": "vertical", "symbolType": "M-5,0H5", "symbolSize": 100, "symbolStrokeWidth": 4, "symbolOffset": 18, "labelOffset": 20, "labelFontSize": 12, "labelColor": "#222", "labelBaseline": "alphabetic", "labelExpr": "split(datum.label, '|')", "rowPadding": 16, "padding": 0}}}},
{"data": {"name": "ism"}, "mark": {"type": "line", "strokeWidth": 4, "strokeJoin": "round"}, "encoding": {"color": {"datum": "ISM Index", "scale": {"domain": ["Average ISM-Adjusted of 5|Regionals", "Average ISM-Adjusted of|Richmond/Philly/Empire", "ISM Index"], "range": ["#2a5595", "#b38f80", "#ff0000"]}, "legend": {"title": null, "orient": "none", "legendX": 60, "legendY": 179.9, "direction": "vertical", "symbolType": "M-5,0H5", "symbolSize": 100, "symbolStrokeWidth": 4, "symbolOffset": 18, "labelOffset": 20, "labelFontSize": 12, "labelColor": "#222", "labelBaseline": "alphabetic", "labelExpr": "split(datum.label, '|')", "rowPadding": 16, "padding": 0}}}}
]
},
{"data": {"values": [{}]}, "width": 311, "height": 2.5, "mark": {"type": "rect", "color": "#8c8c8c"}, "encoding": {}, "title": {"text": ["Zdroj:\u00a0\u00a0\u00a0Institute\u00a0\u00a0\u00a0for\u00a0\u00a0Supply\u00a0\u00a0\u00a0Management,\u00a0\u00a0SG", "Cross Asset Research/Economics"], "orient": "bottom", "anchor": "start", "fontSize": 14, "fontWeight": "normal", "color": "#000", "offset": 16.5, "baseline": "alphabetic", "lineHeight": 20, "dx": 4}}
]
}
]
}
